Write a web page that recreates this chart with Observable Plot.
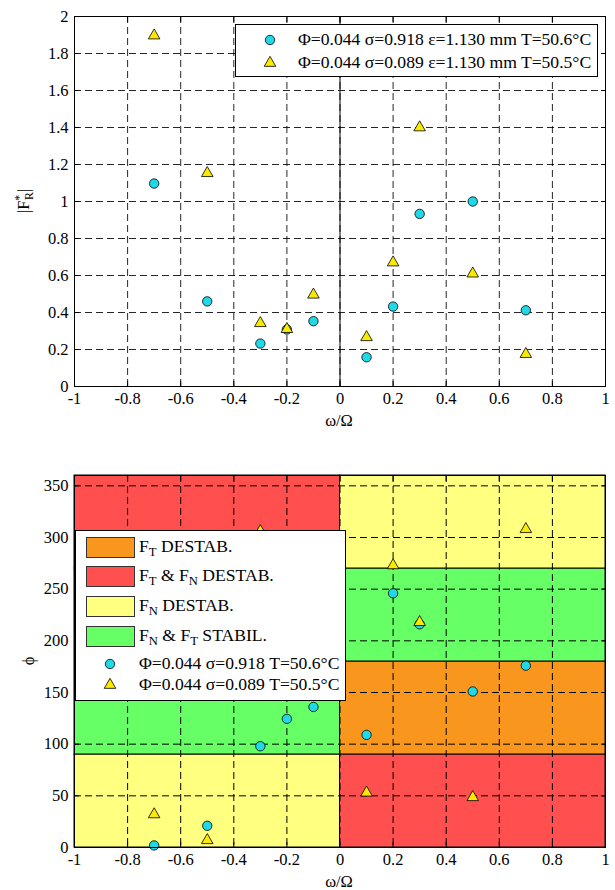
<!DOCTYPE html>
<html><head><meta charset="utf-8">
<script src="https://cdn.jsdelivr.net/npm/d3@7"></script>
<script src="https://cdn.jsdelivr.net/npm/@observablehq/plot@0.6"></script>
<style>
body{margin:0;background:#fff;}
#wrap{position:relative;width:615px;height:890px;font-family:"Liberation Serif","Times New Roman",serif;font-size:16px;color:#000;overflow:hidden}
#wrap svg{display:block;font-family:"Liberation Serif","Times New Roman",serif !important;font-size:16.5px !important;}
#wrap svg text{font-family:"Liberation Serif","Times New Roman",serif !important;}
.lab{position:absolute;white-space:nowrap;line-height:1;font-size:16.5px}
.legend{position:absolute;background:#fff;border:1px solid #000;box-sizing:border-box;font-size:17.6px}
.row{position:absolute;white-space:nowrap;line-height:18px;height:18px;}
.patch{position:absolute;border:1px solid #333;box-sizing:border-box;}
sub{font-size:0.72em;vertical-align:-0.35em;line-height:0}
sup{font-size:0.72em;vertical-align:0.45em;line-height:0}
</style></head><body><div id="wrap"></div>
<script>
// ---- data ----
const omega = [-0.7, -0.5, -0.3, -0.2, -0.1, 0.1, 0.2, 0.3, 0.5, 0.7];
const fCircle = [1.097, 0.46, 0.232, 0.308, 0.353, 0.158, 0.432, 0.933, 1.0, 0.412];
const fTri    = [1.897, 1.153, 0.342, 0.31, 0.496, 0.266, 0.67, 1.40, 0.61, 0.175];
const phiCircle = [2, 21, 98, 124.5, 136, 109, 246, 216, 151, 176];
const omegaTriPhi = [-0.7, -0.5, -0.3, 0.1, 0.2, 0.3, 0.5, 0.7];
const phiTri = [32, 7, 306, 53, 273, 218, 48.6, 308];

const xTicks = [-1, -0.8, -0.6, -0.4, -0.2, 0, 0.2, 0.4, 0.6, 0.8, 1];
const fTicks = [0, 0.2, 0.4, 0.6, 0.8, 1, 1.2, 1.4, 1.6, 1.8, 2];
const phiTicks = [0, 50, 100, 150, 200, 250, 300, 350];

// stability regions (bottom chart)
const regionX1 = [-1, -1, -1, 0, 0, 0, 0];
const regionX2 = [0, 0, 0, 1, 1, 1, 1];
const regionY1 = [0, 90, 270, 0, 90, 180, 270];
const regionY2 = [90, 270, 360, 90, 180, 270, 360];
const regionKind = ["FN", "FNFT", "FTFN", "FTFN", "FT", "FNFT", "FN"];

const regionKinds = ["FT", "FTFN", "FN", "FNFT"];
const regionColors = ["#f8961e", "#ff4f4f", "#ffff80", "#66ff66"];
const regionLabels = ["F<sub>T</sub> DESTAB.", "F<sub>T</sub> &amp; F<sub>N</sub> DESTAB.", "F<sub>N</sub> DESTAB.", "F<sub>N</sub> &amp; F<sub>T</sub> STABIL."];

const seriesTop = ["\u03A6=0.044 \u03C3=0.918 \u03B5=1.130 mm T=50.6\u00B0C", "\u03A6=0.044 \u03C3=0.089 \u03B5=1.130 mm T=50.5\u00B0C"];
const seriesBottom = ["\u03A6=0.044 \u03C3=0.918 T=50.6\u00B0C", "\u03A6=0.044 \u03C3=0.089 T=50.5\u00B0C"];

const cyan = "#1fd9e9";
const yellow = "#fbe900";
const rC = 4.7, rT = 4.3;
const serif = '"Liberation Serif", "Times New Roman", serif';

// ---- tables ----
const topCircles = omega.map((x, i) => ({x, y: fCircle[i]}));
const topTris = omega.map((x, i) => ({x, y: fTri[i]}));
const botCircles = omega.map((x, i) => ({x, y: phiCircle[i]}));
const botTris = omegaTriPhi.map((x, i) => ({x, y: phiTri[i]}));
const regions = regionX1.map((x1, i) => ({x1, x2: regionX2[i], y1: regionY1[i], y2: regionY2[i], kind: regionKind[i]}));

const gridStyle = {stroke: "#000", strokeOpacity: 0.85, strokeDasharray: "7,4", strokeWidth: 1};
const fmt = d => String(d);

function frameTicks(xt, yt) {
  return [
    Plot.axisX(xt, {anchor: "bottom", tickSize: 5, dy: -5, fill: "none", label: null}),
    Plot.axisX(xt, {anchor: "top", tickSize: 5, dy: 5, fill: "none", label: null}),
    Plot.axisY(yt, {anchor: "left", tickSize: 5, dx: 5, fill: "none", label: null}),
    Plot.axisY(yt, {anchor: "right", tickSize: 5, dx: -5, fill: "none", label: null}),
    Plot.axisX(xt, {anchor: "bottom", tickSize: 0, tickPadding: 6, tickFormat: fmt, label: null, fontFamily: serif, fontSize: 16.5, fill: "#000"}),
    Plot.axisY(yt, {anchor: "left", tickSize: 0, tickPadding: 6, tickFormat: fmt, label: null, fontFamily: serif, fontSize: 16.5, fill: "#000"})
  ];
}

const common = {
  width: 615, marginLeft: 74, marginRight: 10,
  style: {background: "white", color: "black", overflow: "visible"}
};

const topChart = Plot.plot({
  ...common,
  height: 430, marginTop: 16, marginBottom: 44,
  x: {domain: [-1, 1]},
  y: {domain: [0, 2]},
  marks: [
    Plot.gridX(xTicks, gridStyle),
    Plot.gridY(fTicks, gridStyle),
    Plot.ruleX([0], {stroke: "#000", strokeWidth: 1}),
    ...frameTicks(xTicks, fTicks),
    Plot.dot(topCircles, {x: "x", y: "y", r: rC, fill: cyan, stroke: "#000", strokeWidth: 0.8}),
    Plot.dot(topTris, {x: "x", y: "y", r: rT, symbol: "triangle", fill: yellow, stroke: "#000", strokeWidth: 0.8}),
    Plot.frame({stroke: "#000", strokeWidth: 1})
  ]
});

const colorOf = Object.fromEntries(regionKinds.map((k, i) => [k, regionColors[i]]));
const bottomChart = Plot.plot({
  ...common,
  height: 460, marginTop: 45, marginBottom: 43,
  x: {domain: [-1, 1]},
  y: {domain: [0, 360]},
  marks: [
    Plot.rect(regions, {x1: "x1", x2: "x2", y1: "y1", y2: "y2", fill: d => colorOf[d.kind], stroke: "#000", strokeWidth: 1}),
    Plot.gridX(xTicks, {...gridStyle, strokeOpacity: 1}),
    Plot.gridY(phiTicks, {...gridStyle, strokeOpacity: 1}),
    ...frameTicks(xTicks, phiTicks),
    Plot.dot(botCircles, {x: "x", y: "y", r: rC, fill: cyan, stroke: "#000", strokeWidth: 0.8}),
    Plot.dot(botTris, {x: "x", y: "y", r: rT, symbol: "triangle", fill: yellow, stroke: "#000", strokeWidth: 0.8}),
    Plot.frame({stroke: "#000", strokeWidth: 1})
  ]
});

const wrap = document.getElementById("wrap");
wrap.appendChild(topChart);
wrap.appendChild(bottomChart);

// ---- helpers for overlays ----
function markerSVG(kind) {
  const s = 14;
  const path = kind === "circle"
    ? d3.symbol(d3.symbolCircle, Math.PI * rC * rC)()
    : d3.symbol(d3.symbolTriangle, Math.PI * rT * rT)();
  const fill = kind === "circle" ? cyan : yellow;
  return `<svg width="${s}" height="${s}" viewBox="${-s/2} ${-s/2} ${s} ${s}" style="display:block"><path d="${path}" fill="${fill}" stroke="#000" stroke-width="0.8"/></svg>`;
}
function addDiv(parent, cls, css, html) {
  const d = document.createElement("div");
  d.className = cls;
  Object.assign(d.style, css);
  d.innerHTML = html || "";
  parent.appendChild(d);
  return d;
}

// axis titles
addDiv(wrap, "lab", {left: "339px", top: "421px", transform: "translate(-50%,-50%)"}, "\u03C9/\u03A9");
addDiv(wrap, "lab", {left: "339px", top: "882px", transform: "translate(-50%,-50%)"}, "\u03C9/\u03A9");
addDiv(wrap, "lab", {left: "24px", top: "201px", transform: "translate(-50%,-50%) rotate(-90deg)"}, "|F<sup>*</sup><sub style=\"margin-left:-0.45em\">R</sub>|");
addDiv(wrap, "lab", {left: "29px", top: "661px", transform: "translate(-50%,-50%) rotate(-90deg)"}, "\u03D5");

// top legend
const lt = addDiv(wrap, "legend", {left: "235px", top: "24px", width: "363px", height: "53px"});
[["circle", 15], ["triangle", 38]].forEach(([k, cy], i) => {
  addDiv(lt, "row", {left: "27px", top: (cy - 7) + "px", height: "14px"}, markerSVG(k));
  addDiv(lt, "row", {left: "62px", top: (cy - 10) + "px"}, seriesTop[i]);
});

// bottom legend
const lb = addDiv(wrap, "legend", {left: "75px", top: "530px", width: "271px", height: "171px"});
const patchTops = [6, 35, 65, 95];
regionKinds.forEach((k, i) => {
  addDiv(lb, "patch", {left: "10px", top: patchTops[i] + "px", width: "49px", height: "21px", background: regionColors[i]});
  addDiv(lb, "row", {left: "63px", top: (patchTops[i] + 0) + "px"}, regionLabels[i]);
});
[["circle", 133], ["triangle", 154]].forEach(([k, cy], i) => {
  addDiv(lb, "row", {left: "27px", top: (cy - 7) + "px", height: "14px"}, markerSVG(k));
  addDiv(lb, "row", {left: "63px", top: (cy - 10) + "px"}, seriesBottom[i]);
});
</script>
</body></html>
